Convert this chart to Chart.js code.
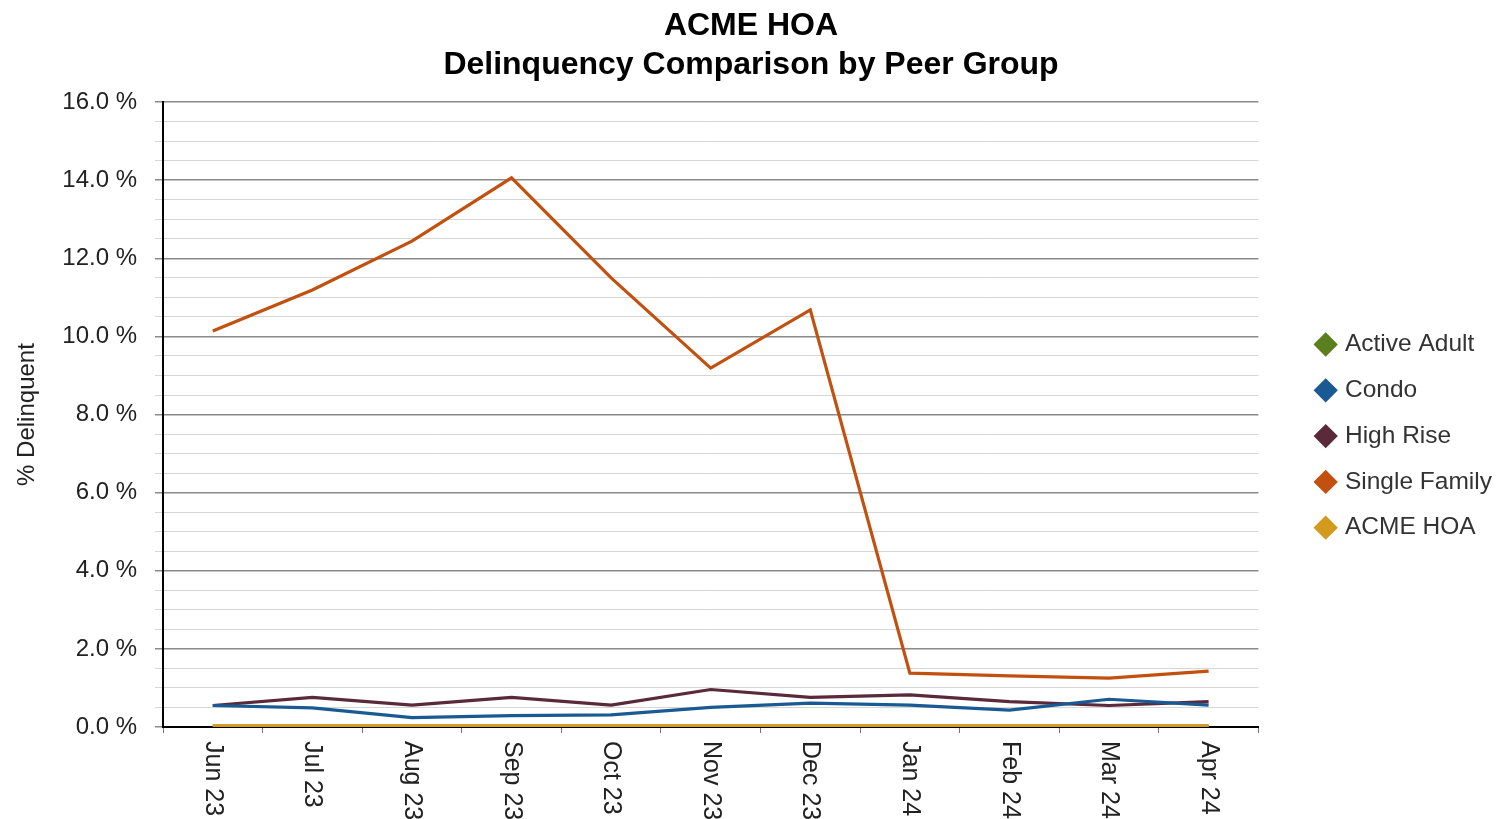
<!DOCTYPE html>
<html>
<head>
<meta charset="utf-8">
<script src="https://cdn.jsdelivr.net/npm/chart.js@4"></script>
<style>
html,body{margin:0;padding:0;background:#fff;}
#wrap{width:1499px;height:819px;}
</style>
</head>
<body>
<div id="wrap"><canvas id="c" width="1499" height="819"></canvas></div>
<script>
const months = ['Jun 23','Jul 23','Aug 23','Sep 23','Oct 23','Nov 23','Dec 23','Jan 24','Feb 24','Mar 24','Apr 24'];
const activeAdult  = [0.02,0.02,0.02,0.02,0.02,0.02,0.02,0.02,0.02,0.02,0.02];
const condo        = [0.55,0.49,0.24,0.29,0.31,0.50,0.61,0.56,0.43,0.71,0.56];
const highRise     = [0.55,0.76,0.56,0.76,0.56,0.96,0.76,0.82,0.65,0.55,0.65];
const singleFamily = [10.14,11.19,12.44,14.06,11.50,9.19,10.68,1.38,1.31,1.25,1.43];
const acmeHoa      = [0.03,0.03,0.03,0.03,0.03,0.03,0.03,0.03,0.03,0.03,0.03];
const seriesNames  = ['Active Adult','Condo','High Rise','Single Family','ACME HOA'];
const seriesColors = ['#5B7F1F','#1A5A94','#5A2A3A','#C2500F','#D49A1E'];

const FONT = "'Liberation Sans', Arial, sans-serif";

const xLabelPlugin = {
  id: 'xLabels',
  afterDraw(chart) {
    const xs = chart.scales.x;
    const ctx = chart.ctx;
    ctx.save();
    ctx.fillStyle = '#222';
    ctx.font = '25px ' + FONT;
    ctx.textAlign = 'left';
    ctx.textBaseline = 'middle';
    months.forEach((m, i) => {
      const x = xs.getPixelForValue(i);
      ctx.save();
      ctx.translate(x, xs.top + 14);
      ctx.rotate(Math.PI / 2);
      ctx.fillText(m, 0, 0);
      ctx.restore();
    });
    ctx.restore();
  }
};

const data = [activeAdult, condo, highRise, singleFamily, acmeHoa];
const drawOrder = [5, 2, 3, 4, 1];
const datasets = seriesNames.map((n, i) => ({
  label: n,
  data: data[i],
  borderColor: seriesColors[i],
  backgroundColor: seriesColors[i],
  borderWidth: 3.2,
  pointRadius: 0,
  pointHoverRadius: 0,
  tension: 0,
  fill: false,
  pointStyle: 'rectRot',
  order: drawOrder[i]
}));

new Chart(document.getElementById('c'), {
  type: 'line',
  data: { labels: months, datasets },
  plugins: [xLabelPlugin],
  options: {
    responsive: false,
    animation: false,
    layout: { padding: { top: 0, right: -3, bottom: 0, left: 0 } },
    plugins: {
      title: {
        display: true,
        text: ['ACME HOA', 'Delinquency Comparison by Peer Group'],
        color: '#000',
        font: { family: FONT, size: 32, weight: 'bold', lineHeight: 1.22 },
        padding: { top: 7, bottom: 17 }
      },
      legend: {
        position: 'right',
        align: 'center',
        title: { display: true, text: '', padding: { top: 52, bottom: 0 }, font: { size: 1 } },
        labels: {
          usePointStyle: true,
          boxWidth: 14,
          boxHeight: 14,
          padding: 21.3,
          color: '#333',
          font: { family: FONT, size: 24.5 },
          sort: (a, b) => a.datasetIndex - b.datasetIndex
        }
      },
      tooltip: { enabled: false }
    },
    scales: {
      x: {
        type: 'category',
        offset: true,
        grid: { offset: true, drawOnChartArea: false, drawTicks: true, tickLength: 6, color: '#777' },
        border: { color: '#000', width: 2 },
        ticks: { color: 'rgba(0,0,0,0)', font: { family: FONT, size: 24 }, autoSkip: false, maxRotation: 90, minRotation: 90 },
        afterFit(s) { s.height = 92; }
      },
      y: {
        min: 0,
        max: 16,
        grid: {
          color: (c) => (Math.abs(c.tick.value % 2) < 1e-6 ? '#8a8a8a' : '#d6d6d6'),
          lineWidth: (c) => (Math.abs(c.tick.value % 2) < 1e-6 ? 1.5 : 1),
          tickLength: 8
        },
        border: { color: '#000', width: 2 },
        ticks: {
          stepSize: 0.5,
          autoSkip: false,
          padding: 18,
          color: '#222',
          font: { family: FONT, size: 24 },
          callback: (v) => (Math.abs(v % 2) < 1e-6 ? v.toFixed(1) + ' %' : '')
        },
        title: {
          display: true,
          text: '% Delinquent',
          color: '#222',
          font: { family: FONT, size: 24 },
          padding: { top: 13, bottom: 0 }
        },
        afterFit(s) { s.width = 163; }
      },
      gap: {
        type: 'linear',
        position: 'right',
        display: true,
        grid: { display: false },
        border: { display: false },
        ticks: { display: false },
        afterFit(s) { s.width = 39; }
      }
    }
  }
});
</script>
</body>
</html>
